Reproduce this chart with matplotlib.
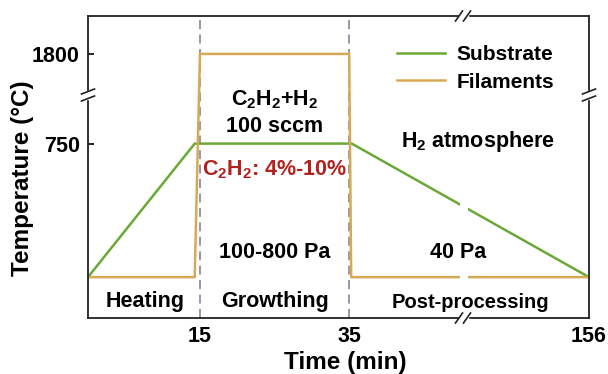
import numpy as np
import matplotlib
matplotlib.use("Agg")
import matplotlib.pyplot as plt
from matplotlib.lines import Line2D

# ---- data ----
substrate_t = [0, 14.3, 36.3, 156]
substrate_T = [25, 750, 750, 25]
filament_t = [0, 14.3, 15, 35, 36, 156]
filament_T = [25, 25, 1800, 1800, 25, 25]
xticks = [15, 35, 156]
xtick_labels = ["15", "35", "156"]
yticks = [750, 1800]
ytick_labels = ["750", "1800"]
phase_bounds = [15, 35]
labels = ["Substrate", "Filaments"]

GREEN = "#6BA837"
GOLD = "#D6AA55"
RED = "#B3221F"

plt.rcParams['font.family'] = ['Liberation Sans', 'DejaVu Sans']
plt.rcParams['font.weight'] = 'bold'
plt.rcParams['mathtext.fontset'] = 'custom'
plt.rcParams['mathtext.rm'] = 'Liberation Sans:bold'
plt.rcParams['mathtext.it'] = 'Liberation Sans:bold'
plt.rcParams['mathtext.bf'] = 'Liberation Sans:bold'

# piecewise x scale: 0-35 wide, 35-156 compressed
def xf(x):
    x = np.asarray(x, dtype=float)
    return np.where(x <= 35, x * 7.467, 35 * 7.467 + (x - 35) * 1.983)

def xi(u):
    u = np.asarray(u, dtype=float)
    b = 35 * 7.467
    return np.where(u <= b, u / 7.467, 35 + (u - b) / 1.983)

# piecewise y scale: below 750 expanded, above 750 compressed
def yf(T):
    T = np.asarray(T, dtype=float)
    return np.where(T <= 750, (T - 25) * 0.1848, 725 * 0.1848 + (T - 750) * 0.0857)

def yi(u):
    u = np.asarray(u, dtype=float)
    b = 725 * 0.1848
    return np.where(u <= b, 25 + u / 0.1848, 750 + (u - b) / 0.0857)

W, H = 608, 374
fig = plt.figure(figsize=(W/100, H/100), dpi=100)
ax = fig.add_axes([88/W, 56/H, 501/W, 302/H])
ax.set_xscale('function', functions=(xf, xi))
ax.set_yscale('function', functions=(yf, yi))

ax.plot(substrate_t, substrate_T, color=GREEN, lw=1.8, label=labels[0], zorder=2)
ax.plot(filament_t, filament_T, color=GOLD, lw=1.8, label=labels[1], zorder=2)

for xb in phase_bounds:
    ax.axvline(xb, color="#8C90A3", lw=1.3, ls=(0, (5, 3)), zorder=1.5)

ax.set_xlim(0, 156)
ax.set_ylim(float(yi(-41)), float(yi(262)))

# gap for the axis break in the lines
ax.axvspan(91.0, 95.0, color="white", zorder=2.2, lw=0)

ax.set_xticks(xticks)
ax.set_xticklabels(xtick_labels)
ax.set_yticks(yticks)
ax.set_yticklabels(ytick_labels)
ax.minorticks_off()
ax.tick_params(axis='y', labelsize=15.5, length=4, width=1.2, direction='in', pad=6)
ax.tick_params(axis='x', labelsize=15.5, length=0, pad=6)
for s in ax.spines.values():
    s.set_linewidth(1.3)
    s.set_color("#222222")

# break marks (figure pixel coordinates, origin top-left)
def seg(x0, y0, x1, y1, color="#222222", lw=1.2):
    fig.add_artist(Line2D([x0/W, x1/W], [1 - y0/H, 1 - y1/H], transform=fig.transFigure,
                          color=color, lw=lw, zorder=10))

def brk_h(xc, yc):
    seg(xc - 3.5, yc, xc + 3.5, yc, color="white", lw=2.5)
    for dx in (-4, 4):
        seg(xc + dx - 3.5, yc + 5, xc + dx + 3.5, yc - 5)

def brk_v(xc, yc):
    seg(xc, yc - 3, xc, yc + 3, color="white", lw=2.5)
    for dy in (-3.5, 3.5):
        seg(xc - 6.5, yc + dy + 2.5, xc + 6.5, yc + dy - 2.5)

brk_h(463, 16)
brk_h(463, 318)
brk_v(88, 95)
brk_v(589, 95)

ax.legend(loc='upper left', bbox_to_anchor=(0.58, 0.965), frameon=False,
          fontsize=15, handlelength=2.3, handletextpad=0.55, labelspacing=0.40)

fs = 15.5
def t(x, y, s, **kw):
    fig.text(x/W, 1 - y/H, s, ha='center', va='center', fontsize=kw.pop('fontsize', fs),
             fontweight='bold', **kw)

t(275, 100, r"C$_2$H$_2$+H$_2$")
t(275, 126, "100 sccm")
t(275, 170, r"C$_2$H$_2$: 4%-10%", color=RED)
t(478, 142, r"H$_2$ atmosphere")
t(275, 252, "100-800 Pa")
t(458, 252, "40 Pa")
t(145, 302, "Heating")
t(275, 302, "Growthing")
t(470, 302, "Post-processing", fontsize=14.5)
t(345, 362, "Time (min)", fontsize=17.5)
fig.text(23/W, 1 - 178/H, "Temperature (\u00b0C)", rotation=90, ha='center', va='center',
         fontsize=17.5, fontweight='bold')

fig.savefig("out.png", dpi=100)
